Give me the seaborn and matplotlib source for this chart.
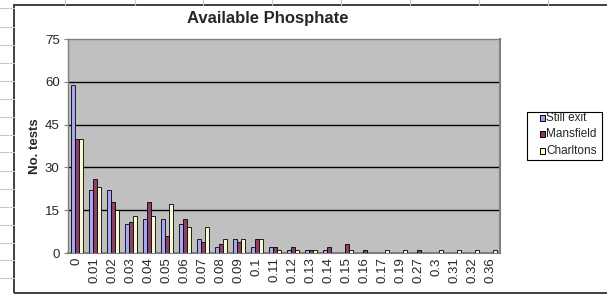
import pandas as pd
import matplotlib
matplotlib.use("Agg")
import matplotlib.pyplot as plt
import seaborn as sns
from matplotlib.lines import Line2D
from matplotlib.patches import Rectangle

categories = ["0", "0.01", "0.02", "0.03", "0.04", "0.05", "0.06", "0.07", "0.08",
              "0.09", "0.1", "0.11", "0.12", "0.13", "0.14", "0.15", "0.16", "0.17",
              "0.19", "0.27", "0.3", "0.31", "0.32", "0.36"]
still_exit = [59, 22, 22, 10, 12, 12, 10, 5, 2, 5, 2, 2, 1, 1, 1, 0, 0, 0, 0, 0, 0, 0, 0, 0]
mansfield = [40, 26, 18, 11, 18, 6, 12, 4, 3, 4, 5, 2, 2, 1, 2, 3, 1, 0, 0, 1, 0, 0, 0, 0]
charltons = [40, 23, 15, 13, 13, 17, 9, 9, 5, 5, 5, 1, 1, 1, 0, 1, 0, 1, 1, 0, 1, 1, 1, 1]
series_names = ["Still exit", "Mansfield", "Charltons"]
colors = ["#9999FF", "#993366", "#FFFFCC"]
y_ticks = [0, 15, 30, 45, 60, 75]

df = pd.DataFrame({
    "level": categories * 3,
    "tests": still_exit + mansfield + charltons,
    "site": sum([[n] * len(categories) for n in series_names], []),
})

sns.set_style("white")
plt.rcParams["font.family"] = ["Liberation Sans", "DejaVu Sans"]

W, H = 607, 295
fig = plt.figure(figsize=(W / 100, H / 100), dpi=100)
ax = fig.add_axes([68 / W, 1 - 253 / H, (500 - 68) / W, (253 - 39) / H])
ax.set_facecolor("#C0C0C0")

sns.barplot(data=df, x="level", y="tests", hue="site", hue_order=series_names,
            palette=colors, width=0.7, edgecolor="black", linewidth=0.6,
            ax=ax, legend=False, zorder=3)

ax.set_ylim(0, 75)
ax.set_xlim(-0.5, len(categories) - 0.5)
ax.set_yticks(y_ticks)
ax.set_yticklabels([str(t) for t in y_ticks], fontsize=9.5)
for t in y_ticks[1:-1]:
    ax.axhline(t, color="black", lw=1, zorder=1)
ax.set_xticks(range(len(categories)))
ax.set_xticklabels(categories, rotation=90, fontsize=9.5)
ax.tick_params(axis="x", length=0, pad=3)
ax.set_xticks([i - 0.5 for i in range(len(categories) + 1)], minor=True)
ax.tick_params(axis="x", which="minor", length=3, color="#808080", width=0.8)
ax.tick_params(axis="y", length=3, color="#808080", width=0.8, pad=3, left=True)
ax.set_xlabel("")
ax.set_ylabel("No. tests", fontsize=9.5, fontweight="bold", labelpad=3)
for side in ["top", "left"]:
    ax.spines[side].set_color("#808080")
    ax.spines[side].set_linewidth(1)
for side in ["right", "bottom"]:
    ax.spines[side].set_color("#808080")
    ax.spines[side].set_linewidth(1.5)
    ax.spines[side].set_visible(True)
ax.spines["top"].set_visible(True)
ax.spines["left"].set_visible(True)

fig.text(268 / W, 1 - 19 / H, "Available Phosphate", ha="center", va="center",
         fontsize=12, fontweight="bold")

# legend drawn like the Excel one: small swatches, text right after them
fig.add_artist(Rectangle((527 / W, 1 - 160 / H), 75 / W, 48 / H, fill=False,
                         edgecolor="black", lw=0.8, transform=fig.transFigure))
for name, c, yc in zip(series_names, colors, [118, 134, 151]):
    fig.add_artist(Rectangle((540 / W, 1 - (yc + 3) / H), 5 / W, 6 / H,
                             facecolor=c, edgecolor="black", lw=0.7,
                             transform=fig.transFigure))
    fig.text(546 / W, 1 - yc / H, name, ha="left", va="center", fontsize=8.5)

# spreadsheet cells behind the chart object
for x in [65, 135, 203, 272, 341, 410, 479, 548]:
    fig.add_artist(Line2D([x / W, x / W], [1, 1 - 5 / H], color="#C8C8C8", lw=0.8))
for y in [8, 27, 45, 63, 81, 99, 117, 135, 152, 171, 189, 207, 225, 243, 260, 278]:
    fig.add_artist(Line2D([0, 14 / W], [1 - y / H, 1 - y / H], color="#C8C8C8", lw=0.8))
fig.add_artist(Rectangle((14 / W, 1 - 293 / H), 1, (293 - 5) / H, fill=False,
                         edgecolor="#303030", lw=1.3, transform=fig.transFigure))

fig.savefig("out.png", dpi=100, facecolor="white")
